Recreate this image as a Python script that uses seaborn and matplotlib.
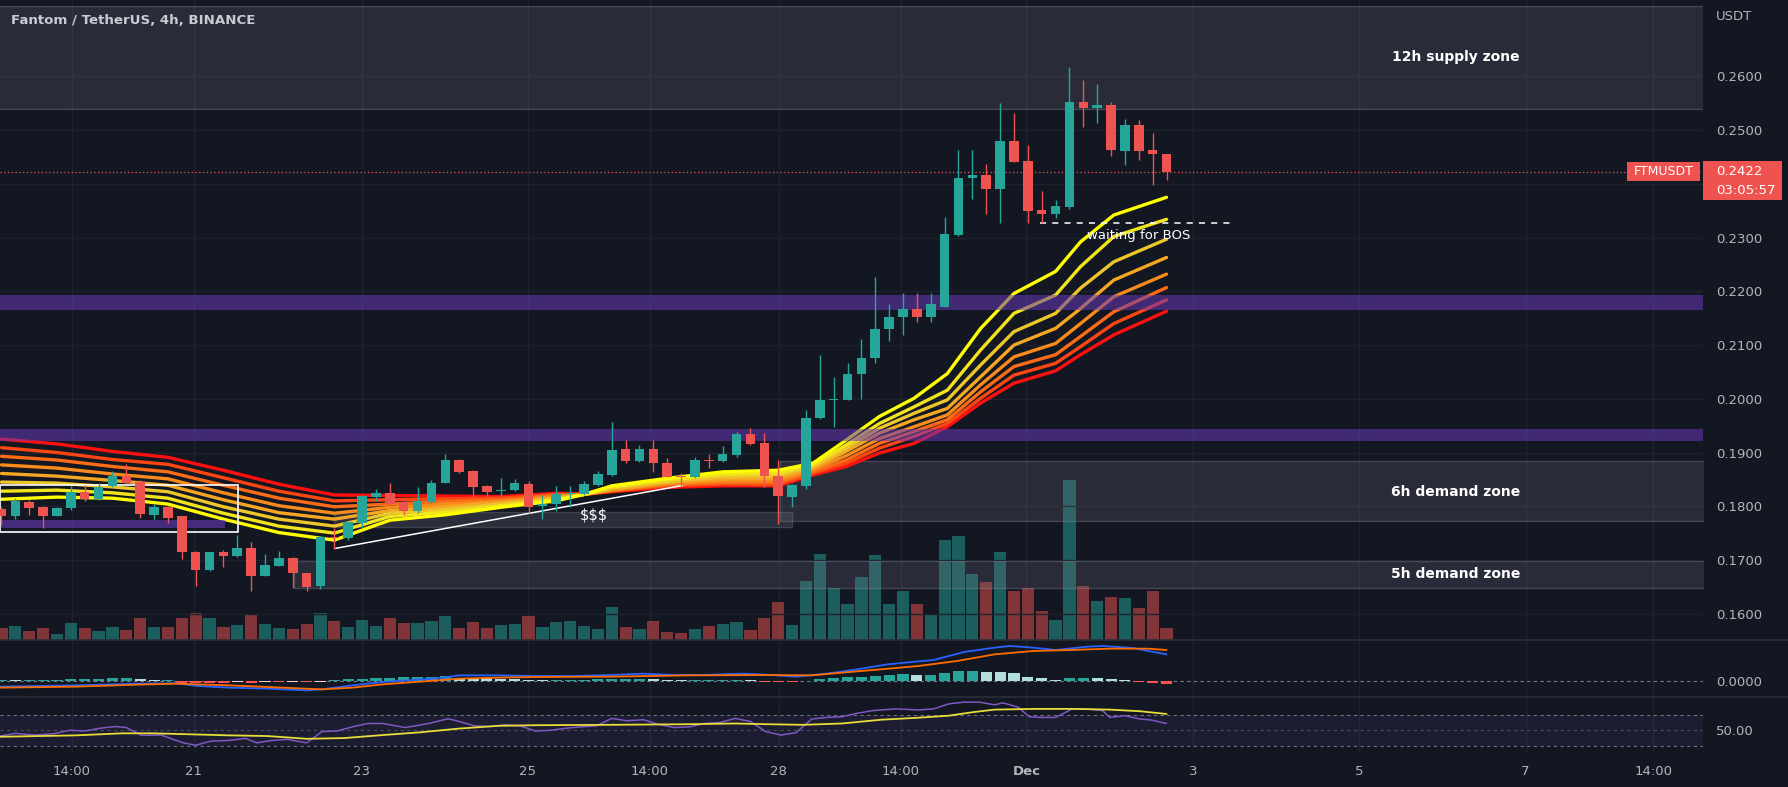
import matplotlib
matplotlib.use("Agg")
import matplotlib.pyplot as plt
from matplotlib.patches import Rectangle
from matplotlib.lines import Line2D
import numpy as np
import seaborn as sns

# ------------------------------------------------------------------ data
# 4h candles, index 0 .. 84 (last candle = current)
opens = [0.1794, 0.1782, 0.1808, 0.1798, 0.1782, 0.1797, 0.1826, 0.1813, 0.1838, 0.1856,
         0.1846, 0.1784, 0.1799, 0.1781, 0.1715, 0.1681, 0.1714, 0.1707, 0.1723, 0.1671,
         0.1689, 0.1704, 0.1675, 0.1652, 0.1743, 0.1740, 0.1768, 0.1818, 0.1824, 0.1807,
         0.1791, 0.1808, 0.1843, 0.1886, 0.1866, 0.1838, 0.1829, 0.1830, 0.1841, 0.1800,
         0.1805, 0.1823, 0.1823, 0.1839, 0.1858, 0.1906, 0.1885, 0.1906, 0.1880, 0.1856,
         0.1854, 0.1886, 0.1884, 0.1895, 0.1934, 0.1917, 0.1856, 0.1818, 0.1838, 0.1964,
         0.1998, 0.1998, 0.2046, 0.2075, 0.2129, 0.2152, 0.2168, 0.2152, 0.2171, 0.2305,
         0.2410, 0.2416, 0.2391, 0.2480, 0.2443, 0.2351, 0.2344, 0.2356, 0.2552, 0.2542,
         0.2547, 0.2462, 0.2510, 0.2463, 0.2455]
highs = [0.1799, 0.1815, 0.1812, 0.1800, 0.1798, 0.1838, 0.1839, 0.1843, 0.1866, 0.1879,
         0.1848, 0.1805, 0.1800, 0.1782, 0.1717, 0.1715, 0.1719, 0.1747, 0.1734, 0.1712,
         0.1716, 0.1705, 0.1676, 0.1744, 0.1760, 0.1771, 0.1820, 0.1833, 0.1843, 0.1808,
         0.1835, 0.1849, 0.1897, 0.1887, 0.1867, 0.1839, 0.1852, 0.1850, 0.1847, 0.1821,
         0.1838, 0.1838, 0.1847, 0.1866, 0.1956, 0.1923, 0.1914, 0.1923, 0.1889, 0.1862,
         0.1892, 0.1897, 0.1913, 0.1939, 0.1945, 0.1936, 0.1886, 0.1842, 0.1979, 0.2081,
         0.2041, 0.2066, 0.2112, 0.2226, 0.2176, 0.2196, 0.2197, 0.2197, 0.2339, 0.2463,
         0.2463, 0.2437, 0.2551, 0.2531, 0.2472, 0.2387, 0.2370, 0.2617, 0.2593, 0.2586,
         0.2553, 0.2520, 0.2518, 0.2495, 0.2455]
lows = [0.1765, 0.1777, 0.1784, 0.1760, 0.1781, 0.1793, 0.1809, 0.1812, 0.1835, 0.1843,
        0.1779, 0.1776, 0.1769, 0.1701, 0.1652, 0.1680, 0.1686, 0.1706, 0.1643, 0.1670,
        0.1688, 0.1647, 0.1642, 0.1646, 0.1720, 0.1738, 0.1761, 0.1810, 0.1804, 0.1784,
        0.1788, 0.1805, 0.1843, 0.1862, 0.1813, 0.1818, 0.1818, 0.1829, 0.1787, 0.1777,
        0.1792, 0.1799, 0.1821, 0.1838, 0.1856, 0.1880, 0.1883, 0.1864, 0.1854, 0.1838,
        0.1853, 0.1872, 0.1883, 0.1892, 0.1914, 0.1836, 0.1767, 0.1798, 0.1833, 0.1962,
        0.1948, 0.1997, 0.1999, 0.2066, 0.2108, 0.2119, 0.2143, 0.2143, 0.2170, 0.2303,
        0.2371, 0.2344, 0.2327, 0.2440, 0.2327, 0.2327, 0.2336, 0.2353, 0.2506, 0.2513,
        0.2451, 0.2435, 0.2445, 0.2398, 0.2408]
closes = [0.1782, 0.1810, 0.1797, 0.1782, 0.1796, 0.1826, 0.1813, 0.1836, 0.1856, 0.1844,
          0.1786, 0.1799, 0.1778, 0.1715, 0.1681, 0.1714, 0.1707, 0.1723, 0.1671, 0.1691,
          0.1704, 0.1675, 0.1649, 0.1743, 0.1741, 0.1771, 0.1819, 0.1824, 0.1805, 0.1792,
          0.1810, 0.1843, 0.1886, 0.1864, 0.1835, 0.1826, 0.1831, 0.1843, 0.1799, 0.1805,
          0.1823, 0.1824, 0.1841, 0.1860, 0.1905, 0.1884, 0.1906, 0.1880, 0.1855, 0.1854,
          0.1886, 0.1884, 0.1897, 0.1934, 0.1916, 0.1856, 0.1819, 0.1839, 0.1964, 0.1998,
          0.2000, 0.2046, 0.2075, 0.2129, 0.2152, 0.2168, 0.2152, 0.2176, 0.2307, 0.2410,
          0.2416, 0.2391, 0.2480, 0.2441, 0.2350, 0.2344, 0.2358, 0.2553, 0.2541, 0.2547,
          0.2463, 0.2510, 0.2462, 0.2455, 0.2422]
volume_m = [3.0, 3.3, 2.1, 2.8, 1.5, 4.1, 2.8, 2.1, 3.1, 2.3,
            5.3, 3.1, 3.1, 5.3, 6.7, 5.3, 3.1, 3.6, 6.3, 3.8,
            2.8, 2.6, 3.8, 6.6, 4.6, 3.1, 4.8, 3.3, 5.3, 4.1,
            4.1, 4.6, 5.8, 2.8, 4.3, 2.8, 3.6, 3.8, 5.8, 3.1,
            4.3, 4.6, 3.3, 2.6, 8.1, 3.1, 2.6, 4.6, 1.8, 1.6,
            2.6, 3.3, 3.8, 4.4, 2.5, 5.5, 9.3, 3.6, 14.6, 21.5,
            12.8, 9.0, 15.7, 21.1, 9.0, 12.1, 9.0, 6.3, 24.8, 26.0,
            16.5, 14.4, 21.8, 12.1, 12.8, 7.1, 4.8, 40.0, 13.4, 9.6,
            10.7, 10.4, 7.9, 12.1, 2.8]

# EMA ribbon (fast -> slow), read at these candle positions
ribbon_x = [0, 4, 8, 12, 16, 20, 24, 28, 32, 36, 40, 42, 44, 48, 52, 56, 58.5, 60.9,
            63.3, 65.8, 68.2, 70.6, 73.0, 76.0, 77.8, 80.2, 84]
ema_1 = [0.1813, 0.1817, 0.1815, 0.1804, 0.1776, 0.1751, 0.1737, 0.1774, 0.1784, 0.1798,
         0.1810, 0.1822, 0.1838, 0.1852, 0.1864, 0.1867, 0.1880, 0.1923, 0.1967, 0.2001,
         0.2047, 0.2131, 0.2196, 0.2237, 0.2292, 0.2342, 0.2375]
ema_2 = [0.1828, 0.1830, 0.1825, 0.1815, 0.1787, 0.1763, 0.1750, 0.1781, 0.1789, 0.1801,
         0.1812, 0.1822, 0.1836, 0.1849, 0.1859, 0.1862, 0.1877, 0.1914, 0.1954, 0.1985,
         0.2016, 0.2091, 0.2159, 0.2193, 0.2246, 0.2302, 0.2334]
ema_3 = [0.1845, 0.1843, 0.1836, 0.1827, 0.1799, 0.1776, 0.1763, 0.1787, 0.1794, 0.1804,
         0.1814, 0.1822, 0.1834, 0.1846, 0.1855, 0.1857, 0.1874, 0.1908, 0.1945, 0.1973,
         0.1998, 0.2063, 0.2125, 0.2159, 0.2206, 0.2255, 0.2297]
ema_4 = [0.1861, 0.1856, 0.1848, 0.1839, 0.1812, 0.1788, 0.1776, 0.1792, 0.1799, 0.1807,
         0.1816, 0.1822, 0.1831, 0.1844, 0.1851, 0.1852, 0.1871, 0.1902, 0.1936, 0.1961,
         0.1982, 0.2041, 0.2100, 0.2131, 0.2168, 0.2221, 0.2263]
ema_5 = [0.1877, 0.1871, 0.1860, 0.1851, 0.1825, 0.1801, 0.1787, 0.1798, 0.1804, 0.1809,
         0.1818, 0.1822, 0.1830, 0.1842, 0.1847, 0.1848, 0.1868, 0.1894, 0.1926, 0.1948,
         0.1970, 0.2026, 0.2078, 0.2103, 0.2140, 0.2190, 0.2232]
ema_6 = [0.1893, 0.1886, 0.1874, 0.1864, 0.1839, 0.1815, 0.1799, 0.1804, 0.1809, 0.1812,
         0.1820, 0.1822, 0.1829, 0.1840, 0.1844, 0.1844, 0.1864, 0.1886, 0.1917, 0.1939,
         0.1961, 0.2013, 0.2060, 0.2082, 0.2116, 0.2162, 0.2207]
ema_7 = [0.1909, 0.1900, 0.1887, 0.1878, 0.1853, 0.1828, 0.1810, 0.1812, 0.1814, 0.1815,
         0.1822, 0.1822, 0.1828, 0.1838, 0.1841, 0.1840, 0.1861, 0.1880, 0.1908, 0.1930,
         0.1954, 0.2001, 0.2044, 0.2066, 0.2097, 0.2140, 0.2184]
ema_8 = [0.1925, 0.1916, 0.1902, 0.1891, 0.1867, 0.1841, 0.1821, 0.1820, 0.1819, 0.1818,
         0.1824, 0.1823, 0.1827, 0.1835, 0.1838, 0.1838, 0.1858, 0.1874, 0.1899, 0.1917,
         0.1948, 0.1992, 0.2029, 0.2052, 0.2082, 0.2119, 0.2163]
ribbon_colors = ['#ffff00', '#f2e41c', '#ecc62a', '#f5a623', '#f98b1c', '#fc6c16',
                 '#fd4612', '#ff1010']

# MACD (units of 1e-4 USDT)
macd_x = [-0.1, 5.4, 9.8, 12.6, 14.2, 16.4, 19.2, 22.0, 23.1, 25.3, 27.5, 29.7, 31.9, 33.0,
          35.8, 38.5, 41.3, 44.0, 46.2, 48.5, 50.7, 53.4, 55.1, 57.3, 59.5, 61.7, 63.9,
          66.1, 67.2, 69.4, 71.6, 72.7, 74.4, 76.0, 78.3, 79.4, 81.6, 82.7, 84.0]
macd_e4 = [-11.3, -8.7, -5.3, -4.7, -10.0, -13.3, -15.3, -18.7, -16.7, -8.7, -2.0, 2.0, 6.7,
           11.3, 11.3, 10.0, 10.0, 12.0, 14.7, 12.0, 12.0, 14.7, 12.7, 8.7, 14.7, 23.3, 33.3,
           39.3, 42.0, 58.0, 66.7, 70.0, 66.7, 62.0, 68.7, 70.0, 66.0, 60.0, 53.3]
signal_x = [-0.1, 5.4, 9.8, 12.6, 16.4, 19.2, 23.1, 25.3, 27.5, 30.8, 33.0, 35.8, 38.5, 44.0,
            49.6, 55.1, 58.4, 60.6, 63.4, 66.1, 68.9, 71.6, 74.4, 77.1, 79.9, 82.7, 84.0]
signal_e4 = [-13.3, -11.3, -7.3, -5.3, -8.7, -12.0, -16.7, -13.3, -6.7, 0.0, 4.7, 6.7, 8.0,
             8.7, 11.3, 12.0, 11.3, 16.7, 23.3, 30.0, 40.0, 53.3, 60.0, 62.0, 64.7, 64.7, 62.0]
hist_e4 = [2.7, 2.0, 2.0, 2.7, 2.7, 4.0, 4.0, 4.0, 5.3, 5.3, 4.0, 2.7, 2.7, -3.3, -4.0, -4.0,
           -4.0, -2.7, -4.0, -2.7, -2.7, -2.0, -2.0, -1.3, 2.0, 3.3, 4.7, 6.7, 6.7, 7.3, 8.0,
           8.7, 9.3, 6.7, 6.0, 5.3, 4.7, 3.3, 2.7, 2.0, 2.0, 2.7, 2.7, 3.3, 4.7, 4.7, 4.7,
           4.0, 2.0, 1.3, 2.0, 2.0, 2.0, 2.0, 1.3, -1.3, -2.0, -2.0, -0.7, 3.3, 5.3, 7.3,
           8.7, 10.7, 12.0, 14.0, 12.0, 12.0, 15.3, 20.0, 20.0, 18.7, 18.0, 15.3, 8.7, 6.0,
           2.0, 6.0, 6.0, 5.3, 3.3, 2.0, -2.0, -3.3, -6.0]

# RSI
rsi_x = [-0.1, 1.0, 2.4, 3.8, 4.9, 6.0, 7.1, 8.2, 9.0, 10.1, 11.5, 13.1, 14.0, 15.1, 16.4,
         17.6, 18.4, 19.5, 20.6, 22.0, 23.1, 24.2, 25.3, 26.4, 27.5, 29.1, 30.8, 32.2, 33.0,
         34.1, 35.2, 36.3, 37.4, 38.5, 39.6, 40.7, 41.8, 42.9, 44.0, 45.1, 46.3, 47.3, 48.5,
         49.6, 50.7, 51.8, 52.9, 54.0, 55.1, 56.2, 57.3, 58.4, 59.5, 60.6, 61.7, 62.8, 64.5,
         66.1, 67.2, 68.3, 69.4, 70.5, 71.6, 72.2, 73.3, 74.1, 74.9, 76.0, 77.2, 78.3, 79.4,
         79.9, 81.0, 82.1, 82.9, 84.0]
rsi_v = [42.6, 46.1, 43.9, 45.7, 50.0, 49.1, 52.6, 54.8, 53.5, 43.5, 43.9, 33.9, 30.9, 36.1,
         37.0, 39.6, 33.9, 37.0, 38.3, 33.9, 48.3, 49.1, 54.4, 58.7, 58.7, 53.5, 58.7, 64.8,
         61.3, 55.7, 54.8, 57.0, 55.7, 49.1, 50.0, 52.6, 54.4, 55.7, 65.2, 62.2, 63.5, 57.8,
         53.5, 54.4, 58.7, 60.0, 65.2, 61.3, 48.3, 43.9, 47.0, 64.4, 66.5, 67.4, 71.8, 75.2,
         77.4, 76.1, 77.4, 83.9, 86.1, 86.1, 82.6, 85.2, 79.6, 67.4, 66.5, 66.5, 77.4, 77.4,
         75.2, 66.5, 68.7, 64.4, 63.1, 58.7]
rsi_ma_x = [-0.1, 5.4, 8.7, 10.9, 13.7, 16.4, 19.2, 22.0, 24.7, 27.5, 30.2, 33.0, 35.8, 38.5,
            44.0, 49.6, 52.9, 55.1, 57.8, 60.6, 63.4, 66.1, 68.3, 70.0, 71.6, 74.4, 77.2,
            79.9, 82.1, 84.0]
rsi_ma_v = [41.7, 43.5, 46.1, 46.1, 44.8, 43.5, 42.6, 39.1, 40.0, 43.9, 47.4, 52.2, 55.7,
            56.5, 57.0, 57.8, 58.7, 57.8, 57.0, 58.7, 63.5, 66.1, 68.7, 73.1, 76.5, 77.4,
            77.4, 76.5, 74.4, 70.9]

# axes
time_tick_pos = [5.07, 13.87, 25.96, 37.96, 46.76, 56.04, 64.84, 73.89, 85.89, 97.89,
                 109.89, 119.1]
time_tick_labels = ['14:00', '21', '23', '25', '14:00', '28', '14:00', 'Dec', '3', '5', '7',
                    '14:00']
price_ticks = [0.16, 0.17, 0.18, 0.19, 0.20, 0.21, 0.22, 0.23, 0.25, 0.26]
price_grid = [0.16, 0.17, 0.18, 0.19, 0.20, 0.21, 0.22, 0.23, 0.24, 0.25, 0.26]
last_price = 0.2422

# drawings: (x_start, x_end, price_low, price_high)
zone_12h = (-2, 130, 0.25384, 0.27316)
zone_6h = (56.1, 130, 0.1772, 0.1885)
zone_5h = (21.1, 130, 0.1648, 0.1698)
zone_liq = (24.0, 57.0, 0.1761, 0.1789)
purple_bands = [(0.2165, 0.2194), (0.1921, 0.1944)]
purple_small = (-2, 16.1, 0.1760, 0.1774)
white_box = (-0.11, 17.07, 0.17515, 0.18395)
trend_x = [24.1, 49.1]
trend_y = [0.17217, 0.18386]
bos_x = [74.9, 88.85]
bos_level = 0.23266

# ------------------------------------------------------------------ style
BG = '#131722'
GRID = '#1e222d'
TXT = '#b2b5be'
UP = '#26a69a'
DOWN = '#ef5350'

sns.set_theme(style="dark", rc={'axes.facecolor': BG, 'figure.facecolor': BG,
                                'axes.edgecolor': BG, 'text.color': TXT,
                                'xtick.color': TXT, 'ytick.color': TXT})
plt.rcParams['font.family'] = ['DejaVu Sans']

W, H = 1788, 787
PR = 1703
P_TOP, P_BOT, M_BOT, R_BOT = 0, 639.5, 696.5, 754


def rect(top, bottom):
    return [0, 1 - bottom / H, PR / W, (bottom - top) / H]


fig = plt.figure(figsize=(W / 100, H / 100), dpi=100, facecolor=BG)
ax_vol = fig.add_axes(rect(P_TOP, P_BOT))
ax = fig.add_axes(rect(P_TOP, P_BOT), sharex=ax_vol)
ax.patch.set_alpha(0)
ax_m = fig.add_axes(rect(P_BOT, M_BOT), sharex=ax_vol)
ax_r = fig.add_axes(rect(M_BOT, R_BOT), sharex=ax_vol)

for a in (ax_vol, ax, ax_m, ax_r):
    a.grid(False)
    for s in a.spines.values():
        s.set_visible(False)
    a.set_facecolor(BG) if a is not ax else None
ax.patch.set_alpha(0)

ax_vol.set_xlim(-0.108, 122.68)
ax.set_ylim(0.155198, 0.274219)
ax_vol.set_ylim(0, 159.9)
ax_m.set_ylim(-0.0031, 0.0083)
ax_r.set_ylim(19.6, 93.3)

idx = np.arange(len(closes))
o = np.array(opens); h = np.array(highs); l = np.array(lows); c = np.array(closes)
up = c >= o
cols = np.where(up, UP, DOWN)

# vertical grid
for a in (ax_vol, ax_m, ax_r):
    for t in time_tick_pos:
        a.axvline(t, color=GRID, lw=1, zorder=0)
for g in price_grid:
    ax.axhline(g, color=GRID, lw=1, zorder=0.5)

# volume
ax_vol.bar(idx, volume_m, width=0.88, color=cols, alpha=0.5, lw=0, zorder=1)

# zones
def zone(a, z, **kw):
    a.fill_between([z[0], z[1]], z[2], z[3], **kw)

for z in (zone_12h, zone_6h, zone_5h):
    zone(ax, z, facecolor=(0.47, 0.48, 0.53, 0.22), edgecolor=(0.55, 0.56, 0.6, 0.35),
         lw=1, zorder=1.5)
zone(ax, zone_liq, facecolor=(0.47, 0.48, 0.53, 0.25), edgecolor=(0.55, 0.56, 0.6, 0.3),
     lw=1, zorder=1.5)

# ribbon
emas = [ema_1, ema_2, ema_3, ema_4, ema_5, ema_6, ema_7, ema_8]
for e, col in reversed(list(zip(emas, ribbon_colors))):
    sns.lineplot(x=ribbon_x, y=e, color=col, lw=2.4, ax=ax, zorder=2, legend=False)

# purple bands (over ribbon)
for lo, hi in purple_bands:
    ax.axhspan(lo, hi, color='#673ab7', alpha=0.55, lw=0, zorder=3)
zone(ax, purple_small, facecolor=(0.404, 0.227, 0.718, 0.6), lw=0, zorder=3)

# white box + trend line + BOS line
ax.add_patch(Rectangle((white_box[0], white_box[2]), white_box[1] - white_box[0],
                       white_box[3] - white_box[2], fill=False, ec='white', lw=1.2, zorder=4))
ax.plot(trend_x, trend_y, color='white', lw=1.1, zorder=4)
ax.plot(bos_x, [bos_level, bos_level], color='white', lw=1.1, ls=(0, (4, 4)), zorder=4)

# candles
ax.vlines(idx, l, h, colors=cols, lw=1, zorder=5)
body_lo = np.minimum(o, c)
body_h = np.maximum(np.abs(c - o), 0.00016)
ax.bar(idx, body_h, bottom=body_lo, width=0.69, color=cols, lw=0, zorder=5)

# last price line
ax.axhline(last_price, color=DOWN, lw=0.9, ls=(0, (1, 2)), zorder=4)

# texts in price pane
for label, y in (('12h supply zone', 0.26361), ('6h demand zone', 0.18274),
                 ('5h demand zone', 0.16746)):
    ax.text(109.48, y, label, ha='right', va='center', color='white', fontsize=10,
            fontweight='bold', zorder=7)
ax.text(82.0, 0.23048, 'waiting for BOS', ha='center', va='center', color='white',
        fontsize=9.5, zorder=7)
ax.text(42.7, 0.17846, '$$$', ha='center', va='center', color='white', fontsize=10.5,
        zorder=7)

# MACD pane
hist = np.array(hist_e4) * 1e-4
hcols = []
prev = 0.0
for v in hist:
    if v >= 0:
        hcols.append('#26a69a' if v >= prev else '#b2dfdb')
    else:
        hcols.append('#ffcdd2' if v > prev else '#ff5252')
    prev = v
ax_m.axhline(0, color='#787b86', lw=0.8, ls=(0, (3, 3)), zorder=1)
ax_m.bar(idx, hist, width=0.8, color=hcols, lw=0, zorder=2)
sns.lineplot(x=macd_x, y=np.array(macd_e4) * 1e-4, color='#2962ff', lw=1.3, ax=ax_m,
             zorder=3, legend=False)
sns.lineplot(x=signal_x, y=np.array(signal_e4) * 1e-4, color='#ff6d00', lw=1.3, ax=ax_m,
             zorder=3, legend=False)

# RSI pane
ax_r.axhspan(30, 70, color='#7e57c2', alpha=0.1, lw=0, zorder=0.5)
for lv, al in ((70, 0.9), (50, 0.5), (30, 0.9)):
    ax_r.axhline(lv, color='#787b86', lw=0.8, ls=(0, (3, 3)), alpha=al, zorder=1)
sns.lineplot(x=rsi_x, y=rsi_v, color='#7e57c2', lw=1.1, ax=ax_r, zorder=3, legend=False)
sns.lineplot(x=rsi_ma_x, y=rsi_ma_v, color='#e8dc3a', lw=1.3, ax=ax_r, zorder=3,
             legend=False)

# ticks
for a in (ax_vol, ax, ax_m):
    a.tick_params(axis='x', bottom=False, labelbottom=False)
ax_vol.set_yticks([])
ax.yaxis.tick_right()
ax.set_yticks(price_ticks)
ax.set_yticklabels([f'{t:.4f}' for t in price_ticks])
ax_m.yaxis.tick_right()
ax_m.set_yticks([0.0])
ax_m.set_yticklabels(['0.0000'])
ax_r.yaxis.tick_right()
ax_r.set_yticks([50])
ax_r.set_yticklabels(['50.00'])
for a in (ax, ax_m, ax_r):
    a.tick_params(axis='y', length=0, pad=9.4, labelsize=9.5, labelcolor=TXT)
    a.set_xlabel(''); a.set_ylabel('')
ax_vol.set_xlabel(''); ax_vol.set_ylabel('')
ax_r.set_xticks(time_tick_pos)
ax_r.set_xticklabels(time_tick_labels)
ax_r.tick_params(axis='x', length=0, pad=8, labelsize=9.5, labelcolor=TXT)
for t in ax_r.get_xticklabels():
    if t.get_text() == 'Dec':
        t.set_fontweight('bold')
ax_vol.set_xlim(-0.108, 122.68)

# pane separators
for yy in (P_BOT, M_BOT):
    fig.add_artist(Line2D([0, 1], [1 - yy / H] * 2, color='#2a2e39', lw=1.2))

# title & price-scale decorations
fig.text(10.7 / W, 1 - 20.4 / H, 'Fantom / TetherUS, 4h, BINANCE', fontsize=9.6,
         fontweight='bold', color='#c8cbd3', va='center', ha='left')
fig.text(1716 / W, 1 - 16 / H, 'USDT', fontsize=9.5, color=TXT, va='center', ha='left')

fig.add_artist(Rectangle((1627 / W, 1 - 181 / H), 73 / W, 19.5 / H,
                         transform=fig.transFigure, color=DOWN, lw=0))
fig.text(1663.5 / W, 1 - 171.3 / H, 'FTMUSDT', fontsize=9, color='white', va='center',
         ha='center')
fig.add_artist(Rectangle((1703 / W, 1 - 200 / H), 79 / W, 38.5 / H,
                         transform=fig.transFigure, color=DOWN, lw=0))
fig.text(1716 / W, 1 - 171.5 / H, f'{last_price:.4f}', fontsize=9.5, color='white',
         va='center', ha='left')
fig.text(1716 / W, 1 - 190 / H, '03:05:57', fontsize=9.5, color='white', va='center',
         ha='left')

fig.savefig('out.png', dpi=100, facecolor=BG)
